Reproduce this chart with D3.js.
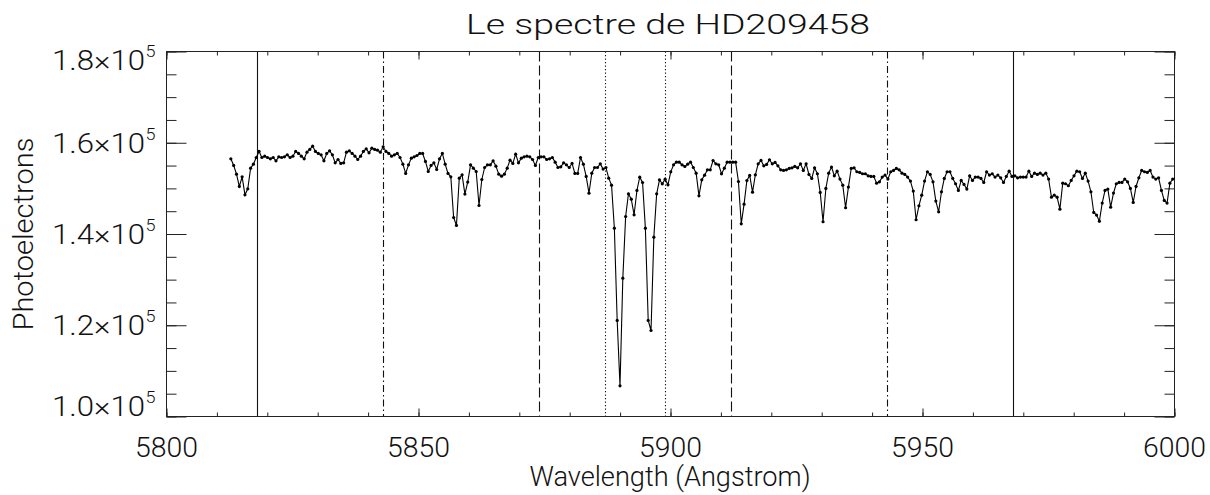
<!DOCTYPE html>
<html>
<head>
<meta charset="utf-8">
<script src="https://cdn.jsdelivr.net/npm/d3@7"></script>
<style>
  html, body { margin: 0; padding: 0; background: #fff; }
  svg { display: block; }
  text { font-family: Roboto, "Liberation Sans", Arial, sans-serif; font-weight: 300; fill: #111; }
</style>
</head>
<body>
<svg id="chart" width="1210" height="495"></svg>
<script>
// ---------------- data ----------------
const chartTitle = "Le spectre de HD209458";
const xAxisTitle = "Wavelength (Angstrom)";
const yAxisTitle = "Photoelectrons";

// uniform pixel grid of the spectrum (first pixel wavelength and dispersion, Angstrom)
const wavelengthStart = 5812.77;
const wavelengthStep = 0.5595;

// photoelectron counts, in units of 1e5, one per pixel
const counts = [
  1.5648,1.5502,1.5312,1.5042,1.5253,1.4859,1.4990,1.5443,1.5531,1.5677,
  1.5809,1.5677,1.5706,1.5677,1.5648,1.5677,1.5604,1.5692,1.5677,1.5692,
  1.5736,1.5677,1.5706,1.5809,1.5765,1.5706,1.5648,1.5794,1.5853,1.5926,
  1.5809,1.5765,1.5736,1.5604,1.5765,1.5823,1.5736,1.5560,1.5633,1.5546,
  1.5560,1.5794,1.5823,1.5765,1.5706,1.5633,1.5706,1.5809,1.5867,1.5779,
  1.5882,1.5853,1.5838,1.5794,1.5911,1.5809,1.5765,1.5706,1.5736,1.5765,
  1.5677,1.5531,1.5327,1.5516,1.5663,1.5692,1.5721,1.5765,1.5765,1.5590,
  1.5370,1.5502,1.5560,1.5414,1.5648,1.5765,1.5531,1.5327,1.5253,1.4362,
  1.4187,1.5224,1.5297,1.4874,1.5137,1.5516,1.5443,1.5370,1.4625,1.5195,
  1.5458,1.5516,1.5516,1.5604,1.5487,1.5312,1.5268,1.5312,1.5443,1.5619,
  1.5546,1.5750,1.5560,1.5663,1.5692,1.5706,1.5692,1.5633,1.5502,1.5677,
  1.5692,1.5692,1.5633,1.5648,1.5677,1.5575,1.5458,1.5473,1.5560,1.5516,
  1.5458,1.5546,1.5327,1.5327,1.5677,1.5531,1.5261,1.4895,1.5334,1.5458,
  1.5458,1.5538,1.5422,1.5458,1.5224,1.5071,1.4128,1.2105,1.0673,1.3032,
  1.4384,1.4881,1.4764,1.4421,1.4954,1.5246,1.5129,1.4128,1.2105,1.1885,
  1.3931,1.4881,1.5188,1.5100,1.5202,1.5078,1.5363,1.5517,1.5575,1.5575,
  1.5517,1.5480,1.5531,1.5575,1.5458,1.5334,1.4837,1.5188,1.5290,1.5407,
  1.5407,1.5611,1.5538,1.5517,1.5319,1.5443,1.5575,1.5575,1.5575,1.5575,
  1.5151,1.4223,1.4654,1.5173,1.5283,1.4917,1.5298,1.5539,1.5612,1.5495,
  1.5524,1.5627,1.5539,1.5568,1.5495,1.5407,1.5393,1.5407,1.5437,1.5451,
  1.5481,1.5451,1.5539,1.5393,1.5539,1.5305,1.5218,1.5451,1.5320,1.4911,
  1.4268,1.4998,1.5334,1.5466,1.5276,1.5378,1.5203,1.5071,1.4575,1.5028,
  1.5437,1.5451,1.5364,1.5349,1.5320,1.5320,1.5276,1.5261,1.5261,1.5115,
  1.5144,1.5247,1.5291,1.5203,1.5364,1.5393,1.5437,1.5407,1.5334,1.5305,
  1.5247,1.5159,1.4940,1.4312,1.4618,1.4852,1.5159,1.5364,1.5305,1.5144,
  1.4721,1.4487,1.4925,1.5218,1.5364,1.5364,1.5218,1.5101,1.4954,1.5174,
  1.5086,1.4984,1.5276,1.5174,1.5247,1.5247,1.5218,1.5130,1.5364,1.5291,
  1.5320,1.5247,1.5291,1.5232,1.5130,1.5261,1.5378,1.5261,1.5276,1.5232,
  1.5247,1.5247,1.5247,1.5378,1.5261,1.5334,1.5305,1.5334,1.5291,1.5334,
  1.5203,1.4808,1.4852,1.4808,1.4545,1.5115,1.5101,1.5057,1.5174,1.5276,
  1.5378,1.5364,1.5218,1.5334,1.5159,1.4925,1.4472,1.4414,1.4282,1.4677,
  1.4954,1.4984,1.4589,1.4896,1.5101,1.5130,1.5130,1.5203,1.5144,1.4998,
  1.4691,1.5042,1.5232,1.5393,1.5364,1.5349,1.5393,1.5247,1.5203,1.5232,
  1.4954,1.4735,1.4677,1.5115,1.5203,1.5218
];

// reference wavelengths marked by vertical lines, and their line kinds
const refLines = [5818, 5843, 5874, 5887, 5899, 5912, 5943, 5968];
const refKinds = ["solid", "dashdot", "dashed", "dotted", "dotted", "dashed", "dashdot", "solid"];

// axes
const xDomain = [5800, 6000];
const yDomain = [1.0, 1.8];           // units of 1e5
const xMajorTicks = [5800, 5850, 5900, 5950, 6000];
const xTickLabels = ["5800", "5850", "5900", "5950", "6000"];
const yMajorTicks = [1.0, 1.2, 1.4, 1.6, 1.8];
const yTickMantissas = ["1.0", "1.2", "1.4", "1.6", "1.8"];
const yTickExponent = "5";

// ---------------- drawing ----------------
const svg = d3.select("#chart");
const plot = { left: 166.5, right: 1174.5, top: 51.5, bottom: 416.5 };

const x = d3.scaleLinear().domain(xDomain).range([plot.left, plot.right]);
const y = d3.scaleLinear().domain(yDomain).range([plot.bottom, plot.top]);

const points = counts.map((v, i) => ({ w: wavelengthStart + i * wavelengthStep, v }));

svg.append("defs").append("clipPath").attr("id", "clip")
  .append("rect")
  .attr("x", plot.left).attr("y", plot.top)
  .attr("width", plot.right - plot.left).attr("height", plot.bottom - plot.top);

const axisColor = "#222";

// vertical reference lines
const dashes = { solid: null, dashdot: "7,3,1.5,3", dashed: "10,4", dotted: "1.2,2.3" };
svg.append("g").selectAll("line").data(refLines).join("line")
  .attr("x1", d => Math.round(x(d)) + 0.5).attr("x2", d => Math.round(x(d)) + 0.5)
  .attr("y1", plot.top).attr("y2", plot.bottom)
  .attr("stroke", "#111").attr("stroke-width", 1.1)
  .attr("stroke-dasharray", (d, i) => dashes[refKinds[i]]);

// axes (d3 axes used for the ticks on all 4 sides)
const xMinor = d3.range(xDomain[0], xDomain[1] + 0.001, 10);
const yMinor = d3.range(0, 17).map(k => +(yDomain[0] + k * 0.05).toFixed(2));

function styleAxis(g) {
  g.select(".domain").remove();
  g.selectAll("line").attr("stroke", axisColor).attr("stroke-width", 1);
  g.selectAll("text").remove();
}
function ticks(gen, pos, vals, size) {
  svg.append("g").attr("transform", pos)
    .call(gen.tickValues(vals).tickSize(size).tickFormat(""))
    .call(styleAxis);
}
ticks(d3.axisTop(x), `translate(0,${plot.bottom})`, xMinor, 4);
ticks(d3.axisTop(x), `translate(0,${plot.bottom})`, xMajorTicks, 8);
ticks(d3.axisBottom(x), `translate(0,${plot.top})`, xMinor, 4);
ticks(d3.axisBottom(x), `translate(0,${plot.top})`, xMajorTicks, 8);
ticks(d3.axisRight(y), `translate(${plot.left},0)`, yMinor, 10);
ticks(d3.axisRight(y), `translate(${plot.left},0)`, yMajorTicks, 20);
ticks(d3.axisLeft(y), `translate(${plot.right},0)`, yMinor, 10);
ticks(d3.axisLeft(y), `translate(${plot.right},0)`, yMajorTicks, 20);

// frame
svg.append("rect")
  .attr("x", plot.left).attr("y", plot.top)
  .attr("width", plot.right - plot.left).attr("height", plot.bottom - plot.top)
  .attr("fill", "none").attr("stroke", axisColor).attr("stroke-width", 1);

// spectrum
const g = svg.append("g").attr("clip-path", "url(#clip)");
g.append("path").datum(points)
  .attr("fill", "none").attr("stroke", "#000").attr("stroke-width", 1.1)
  .attr("d", d3.line().x(d => x(d.w)).y(d => y(d.v)));
g.selectAll("circle").data(points).join("circle")
  .attr("cx", d => x(d.w)).attr("cy", d => y(d.v)).attr("r", 1.6).attr("fill", "#000");

// x tick labels
svg.append("g").selectAll("text").data(xMajorTicks).join("text")
  .attr("x", d => x(d)).attr("y", 457)
  .attr("text-anchor", "middle").attr("font-size", 28)
  .attr("textLength", 63).attr("lengthAdjust", "spacingAndGlyphs")
  .text((d, i) => xTickLabels[i]);

// y tick labels: mantissa x 10 with superscript exponent
// (the end labels are nudged inside the axis range, as in the original)
const yBase = d => (d === yDomain[0] ? plot.bottom - 0.5 : d === yDomain[1] ? y(d) + 18.5 : y(d) + 10);
svg.append("g").selectAll("text").data(yMajorTicks).join("text")
  .attr("x", 145).attr("y", yBase)
  .attr("text-anchor", "end").attr("font-size", 28)
  .attr("textLength", 93).attr("lengthAdjust", "spacingAndGlyphs")
  .text((d, i) => yTickMantissas[i] + "\u00d710");
svg.append("g").selectAll("text").data(yMajorTicks).join("text")
  .attr("x", 145.5).attr("y", d => yBase(d) - 13)
  .attr("text-anchor", "start").attr("font-size", 16)
  .attr("textLength", 10).attr("lengthAdjust", "spacingAndGlyphs")
  .text(yTickExponent);

// titles
svg.append("text").attr("x", 668).attr("y", 34).attr("text-anchor", "middle")
  .attr("font-size", 28).attr("textLength", 404).attr("lengthAdjust", "spacingAndGlyphs")
  .text(chartTitle);
svg.append("text").attr("x", 670).attr("y", 486).attr("text-anchor", "middle")
  .attr("font-size", 27).attr("textLength", 281).attr("lengthAdjust", "spacingAndGlyphs")
  .text(xAxisTitle);
svg.append("text").attr("transform", "translate(33,234) rotate(-90)")
  .attr("text-anchor", "middle").attr("font-size", 28)
  .attr("textLength", 193).attr("lengthAdjust", "spacingAndGlyphs")
  .text(yAxisTitle);
</script>
</body>
</html>
